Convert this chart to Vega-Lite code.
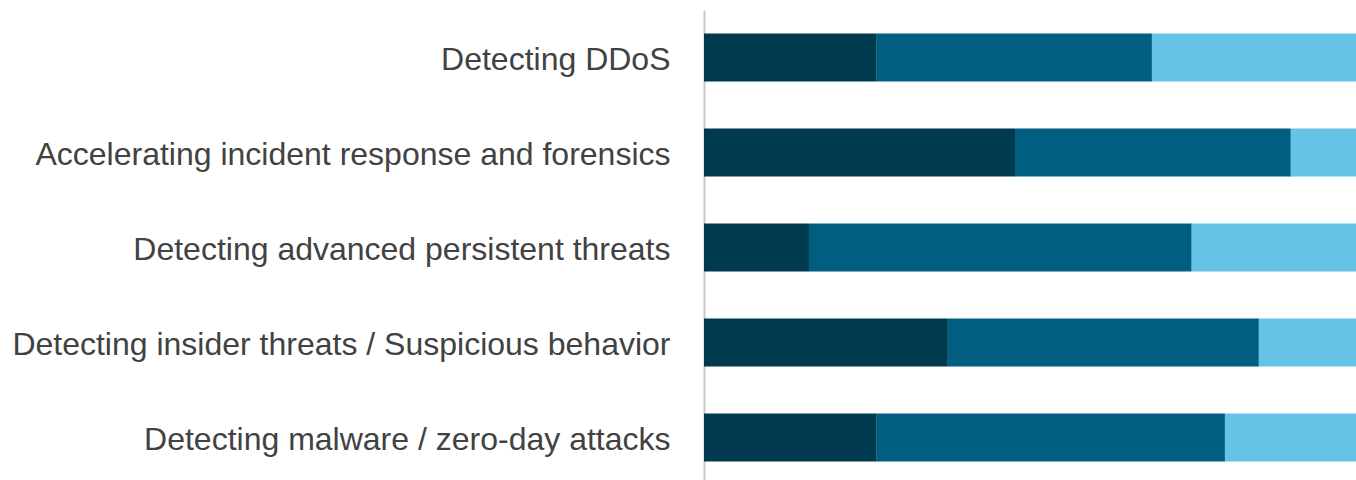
{
  "$schema": "https://vega.github.io/schema/vega-lite/v6.json",
  "autosize": "none",
  "padding": {"left": 704, "top": 10, "right": 0, "bottom": 0},
  "width": 652,
  "height": 475,
  "background": "white",
  "config": {"view": {"stroke": null}},
  "data": {
    "values": [
      {"task": "Detecting DDoS", "level": "a", "pct": 26.5},
      {"task": "Detecting DDoS", "level": "b", "pct": 42.2},
      {"task": "Detecting DDoS", "level": "c", "pct": 31.3},
      {"task": "Accelerating incident response and forensics", "level": "a", "pct": 47.7},
      {"task": "Accelerating incident response and forensics", "level": "b", "pct": 42.3},
      {"task": "Accelerating incident response and forensics", "level": "c", "pct": 10.0},
      {"task": "Detecting advanced persistent threats", "level": "a", "pct": 16.1},
      {"task": "Detecting advanced persistent threats", "level": "b", "pct": 58.7},
      {"task": "Detecting advanced persistent threats", "level": "c", "pct": 25.2},
      {"task": "Detecting insider threats / Suspicious behavior", "level": "a", "pct": 37.4},
      {"task": "Detecting insider threats / Suspicious behavior", "level": "b", "pct": 47.7},
      {"task": "Detecting insider threats / Suspicious behavior", "level": "c", "pct": 14.9},
      {"task": "Detecting malware / zero-day attacks", "level": "a", "pct": 26.5},
      {"task": "Detecting malware / zero-day attacks", "level": "b", "pct": 53.4},
      {"task": "Detecting malware / zero-day attacks", "level": "c", "pct": 20.1}
    ]
  },
  "mark": {"type": "bar"},
  "encoding": {
    "y": {
      "field": "task",
      "type": "nominal",
      "sort": null,
      "scale": {"paddingInner": 0.495, "paddingOuter": 0.2475},
      "axis": {
        "title": null,
        "ticks": false,
        "labelPadding": 34,
        "labelFont": "Liberation Sans",
        "labelFontSize": 32,
        "labelColor": "#424242",
        "labelLimit": 700,
        "labelOffset": 2,
        "domainColor": "#c8c8c8",
        "domainWidth": 2
      }
    },
    "x": {
      "field": "pct",
      "type": "quantitative",
      "stack": "normalize",
      "scale": {"nice": false},
      "axis": null
    },
    "color": {
      "field": "level",
      "type": "nominal",
      "scale": {"domain": ["a", "b", "c"], "range": ["#003a4f", "#005e80", "#66c3e6"]},
      "legend": null
    },
    "order": {"field": "level", "sort": "ascending"}
  }
}
